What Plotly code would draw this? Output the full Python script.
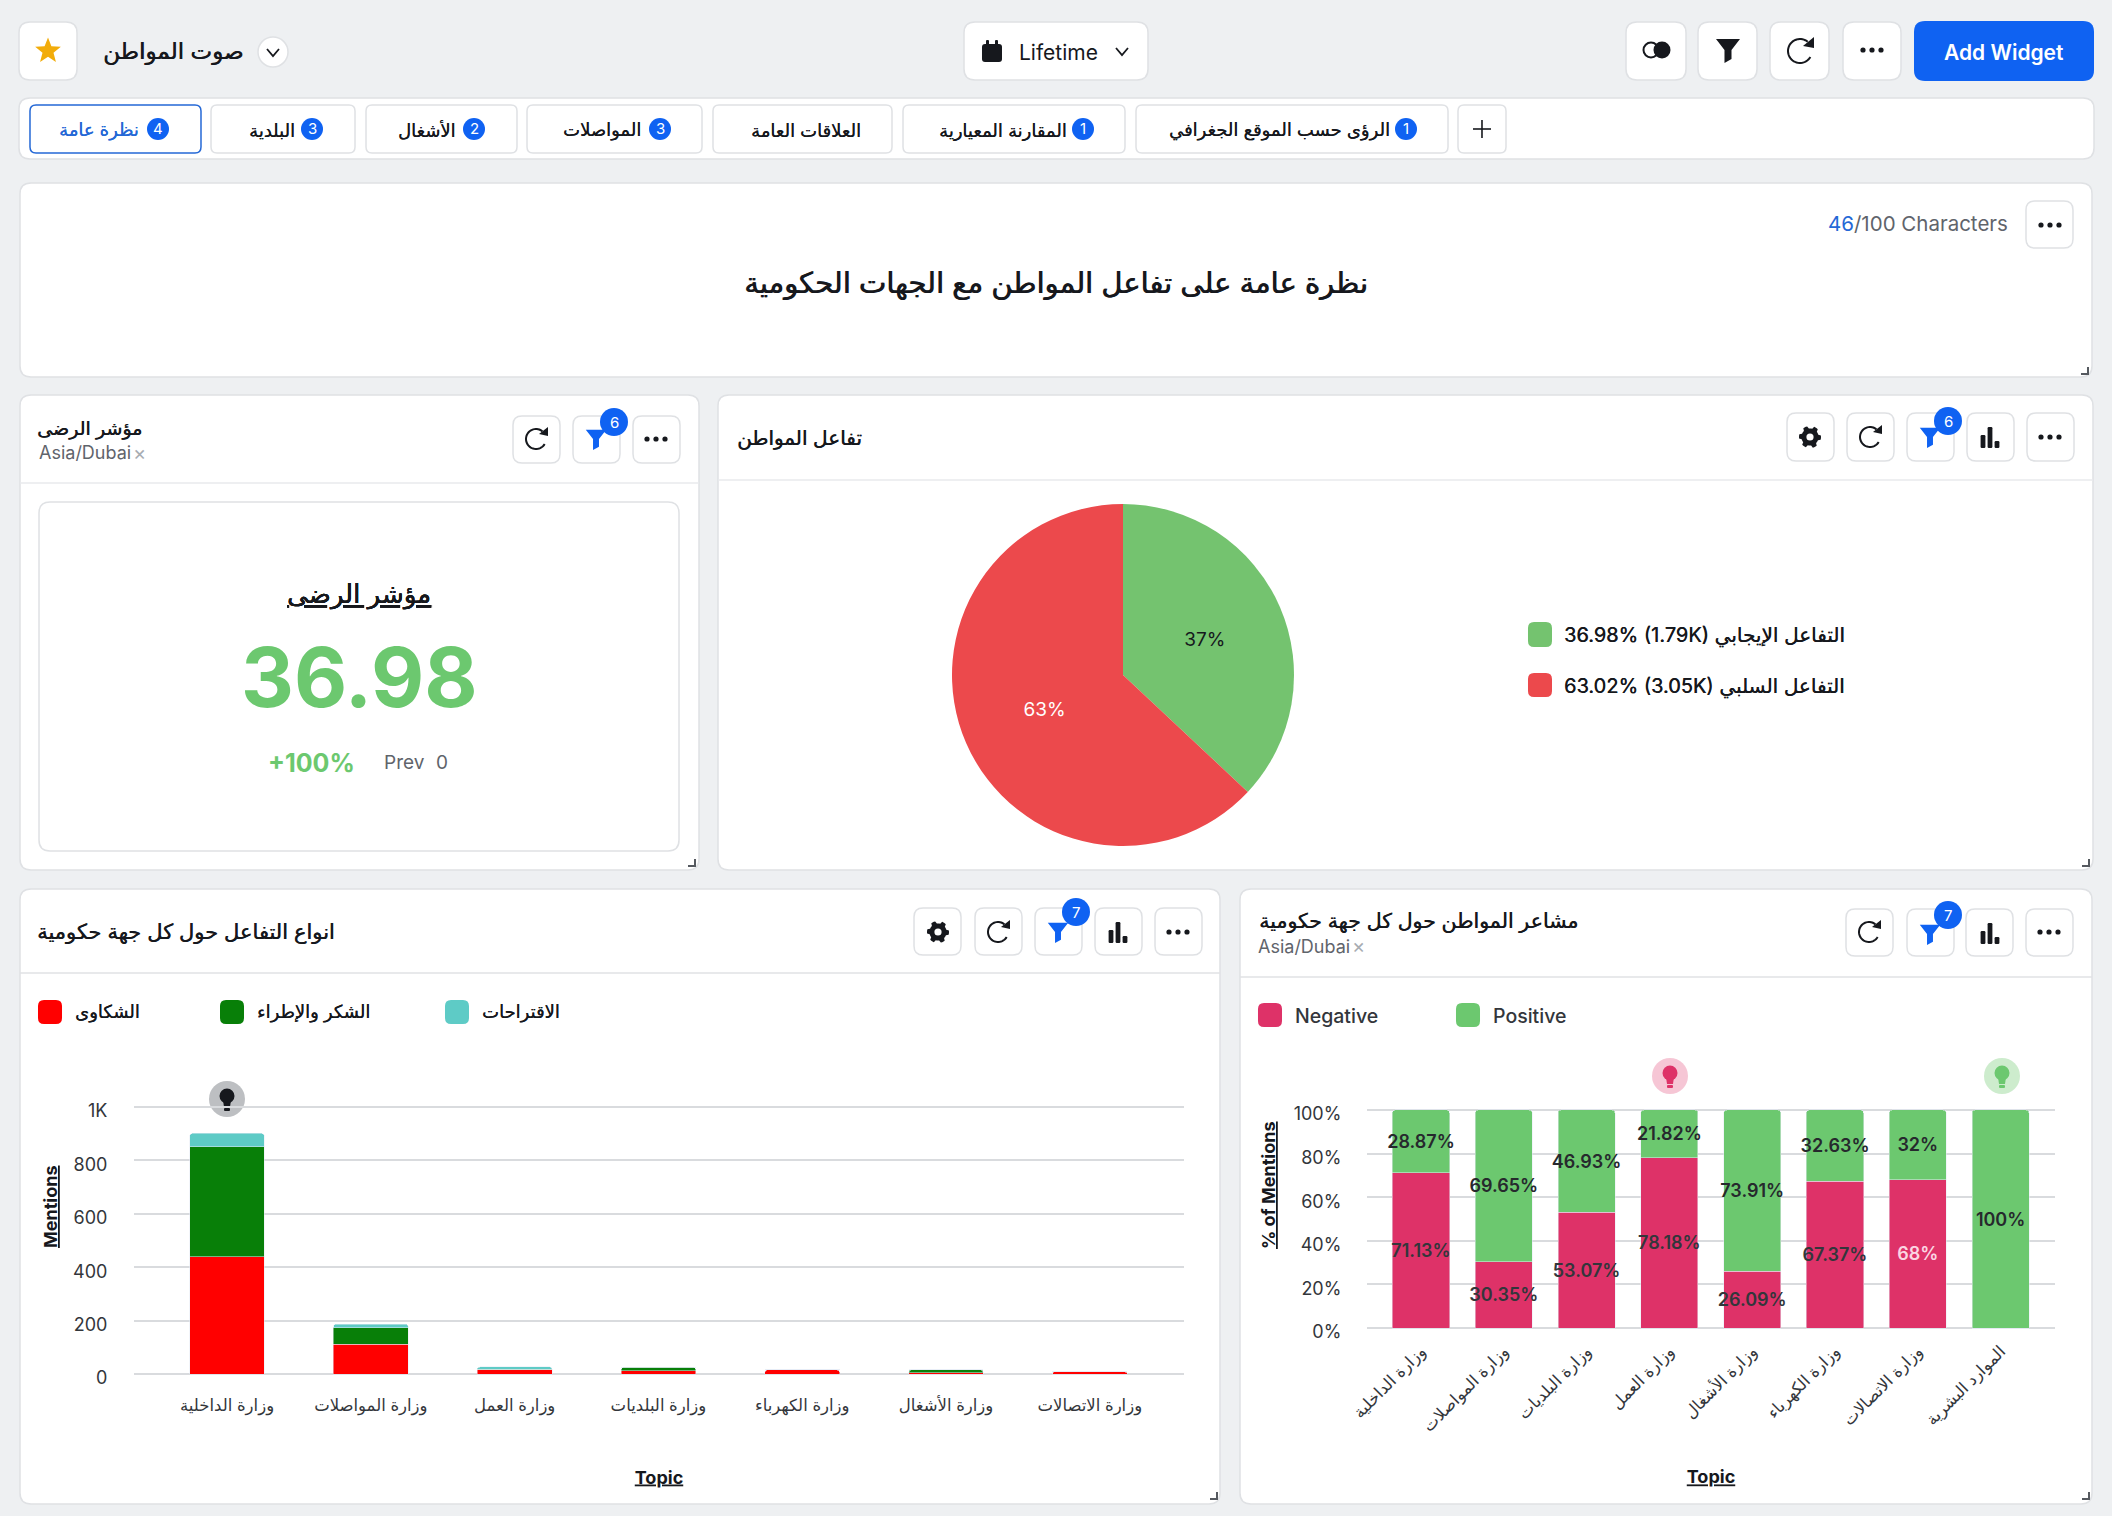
import math
import plotly.graph_objects as go

W, H = 2112, 1516

# pie
pie_labels = ['التفاعل الإيجابي', 'التفاعل السلبي']
pie_values = [36.98, 63.02]
pie_counts = ['1.79K', '3.05K']

# stacked counts per ministry
topics = ['وزارة الداخلية', 'وزارة المواصلات', 'وزارة العمل', 'وزارة البلديات',
          'وزارة الكهرباء', 'وزارة الأشغال', 'وزارة الاتصالات']
complaints = [440, 112, 15, 13, 16, 4, 8]
thanks = [411, 62, 2, 12, 0, 12, 0]
suggestions = [50, 13, 10, 0, 0, 0, 0]
count_ticks = [0, 200, 400, 600, 800, 1000]
count_tick_text = ['0', '200', '400', '600', '800', '1K']

# sentiment share per ministry
sent_topics = ['وزارة الداخلية', 'وزارة المواصلات', 'وزارة البلديات', 'وزارة العمل',
               'وزارة الأشغال', 'وزارة الكهرباء', 'وزارة الاتصالات', 'الموارد البشرية']
negative = [71.13, 30.35, 53.07, 78.18, 26.09, 67.37, 68, 0]
positive = [28.87, 69.65, 46.93, 21.82, 73.91, 32.63, 32, 100]
pct_ticks = [0, 20, 40, 60, 80, 100]
pct_tick_text = ['0%', '20%', '40%', '60%', '80%', '100%']

tabs = [('نظرة عامة', '4'), ('البلدية', '3'), ('الأشغال', '2'), ('المواصلات', '3'),
        ('العلاقات العامة', ''), ('المقارنة المعيارية', '1'), ('الرؤى حسب الموقع الجغرافي', '1')]

FONT = "Inter, 'DejaVu Sans', sans-serif"
BG = '#eef0f2'
BORDER = '#dfe1e4'
INK = '#16181d'
GREY = '#5f646b'
BLUE = '#0f62f2'
GRID = '#d9dbde'

shapes = []
notes = []


def X(v):
    return v / W


def Y(v):
    return 1 - v / H


def add_path(d, fill, line=None, width=1):
    shapes.append(dict(type='path', path=d, xref='paper', yref='paper', layer='below',
                       fillcolor=fill, line=dict(color=line or 'rgba(0,0,0,0)', width=width)))


def round_rect(x0, y0, x1, y1, r, fill='#ffffff', line=BORDER, width=1.5):
    k = [(x0 + r, y0), (x1 - r, y0), (x1, y0), (x1, y0 + r), (x1, y1 - r), (x1, y1),
         (x1 - r, y1), (x0 + r, y1), (x0, y1), (x0, y1 - r), (x0, y0 + r), (x0, y0)]
    p = [f'{X(a):.5f},{Y(b):.5f}' for a, b in k]
    d = f'M{p[0]} L{p[1]} Q{p[2]} {p[3]} L{p[4]} Q{p[5]} {p[6]} L{p[7]} Q{p[8]} {p[9]} L{p[10]} Q{p[11]} {p[0]} Z'
    add_path(d, fill, line, width)


def poly(points, fill, line=None, width=1, close=True):
    d = 'M' + ' L'.join(f'{X(a):.5f},{Y(b):.5f}' for a, b in points) + (' Z' if close else '')
    add_path(d, fill, line, width)


def circle(cx, cy, r, fill, line=None, width=1):
    shapes.append(dict(type='circle', xref='paper', yref='paper', layer='below',
                       x0=X(cx - r), x1=X(cx + r), y0=Y(cy - r), y1=Y(cy + r),
                       fillcolor=fill, line=dict(color=line or 'rgba(0,0,0,0)', width=width)))


def label(text, x, y, size, color=INK, anchor='left', heavy=0, weight=None, angle=0):
    font = dict(family=FONT, size=size, color=color)
    if heavy:
        # the arabic face only has regular and bold, this thickens the regular a little
        font['shadow'] = f'{heavy}px 0 0 {color}'
    if weight:
        font['weight'] = weight
    notes.append(dict(text=text, x=X(x), y=Y(y), xref='paper', yref='paper', showarrow=False,
                      xanchor=anchor, yanchor='middle', align=anchor, borderpad=0, borderwidth=0,
                      textangle=angle, font=font))


def dots(cx, cy, color=INK):
    for dx in (-9, 0, 9):
        circle(cx + dx, cy, 2.6, color)


def refresh(cx, cy, r=11):
    pts = []
    for i in range(0, 41):
        a = math.radians(-50 - 280 * i / 40)
        pts.append((cx + r * math.cos(a), cy + r * math.sin(a)))
    poly(pts, 'rgba(0,0,0,0)', INK, 2, close=False)
    poly([(cx + r + 2, cy - r - 2), (cx + r + 2, cy - 3), (cx + 3, cy - 5)], INK)


def funnel(cx, cy, color=INK, s=1.0):
    poly([(cx - 12 * s, cy - 11 * s), (cx + 12 * s, cy - 11 * s), (cx + 3.5 * s, cy),
          (cx + 3.5 * s, cy + 9 * s), (cx - 3.5 * s, cy + 13 * s), (cx - 3.5 * s, cy)], color)


def bars_icon(cx, cy):
    for dx, top in ((-7, -2), (0, -10), (7, 4)):
        round_rect(cx + dx - 2.4, cy + top, cx + dx + 2.4, cy + 11, 1.2, INK, INK, 0)


def gear(cx, cy):
    pts = []
    for i in range(48):
        a = 2 * math.pi * i / 48
        r = 11 if (i % 8) in (0, 1, 2, 7) else 8.6
        pts.append((cx + r * math.cos(a), cy + r * math.sin(a)))
    poly(pts, INK)
    circle(cx, cy, 3.6, '#ffffff')


def bulb(cx, cy, bg, fg):
    circle(cx, cy, 18, bg)
    circle(cx, cy - 3, 7.5, fg)
    poly([(cx - 4, cy + 1), (cx + 4, cy + 1), (cx + 3, cy + 8), (cx - 3, cy + 8)], fg)
    round_rect(cx - 3, cy + 9, cx + 3, cy + 12, 1, fg, fg, 0)


def button(x0, y0, x1, y1, r=9):
    round_rect(x0, y0, x1, y1, r)


def badge(cx, cy, txt, r=14, size=15):
    circle(cx, cy, r, BLUE)
    label(txt, cx, cy, size, '#ffffff', 'center')


def swatch(x0, y0, x1, y1, color):
    round_rect(x0, y0, x1, y1, 6, color, color, 0)


# --- top bar
button(19, 22, 77, 80, 11)
star = []
for i in range(10):
    a = math.radians(-90 + 36 * i)
    r = 13.5 if i % 2 == 0 else 5.8
    star.append((48 + r * math.cos(a), 51 + r * math.sin(a)))
poly(star, '#f2ac0a')
label('صوت المواطن', 243, 51, 23, INK, 'right', heavy=0.6)
circle(273, 52, 15, '#ffffff', BORDER, 1.5)
poly([(267, 49), (273, 56), (279, 49)], 'rgba(0,0,0,0)', INK, 1.8, close=False)

button(964, 22, 1148, 80, 11)
round_rect(982, 44, 1002, 62, 3, INK, INK, 0)
round_rect(986, 40, 989, 46, 1, INK, INK, 0)
round_rect(995, 40, 998, 46, 1, INK, INK, 0)
label('Lifetime', 1019, 52, 21, INK)
poly([(1116, 48), (1122, 55), (1128, 48)], 'rgba(0,0,0,0)', INK, 1.8, close=False)

button(1626, 22, 1686, 80, 11)
button(1698, 22, 1757, 80, 11)
button(1770, 22, 1829, 80, 11)
button(1843, 22, 1901, 80, 11)
circle(1651, 50, 7.5, '#ffffff', INK, 2)
circle(1662, 50, 8.5, INK)
funnel(1728, 50)
refresh(1800, 51, 12)
dots(1872, 50)
round_rect(1914, 21, 2094, 81, 11, BLUE, BLUE, 0)
label('Add Widget', 2004, 52, 21, '#ffffff', 'center', weight=600)

# --- tab bar
round_rect(19, 98, 2094, 159, 11)
tab_boxes = [(30, 201), (211, 355), (366, 517), (527, 702), (713, 892), (903, 1125), (1136, 1448)]
badge_x = [158, 312, 474, 660, None, 1083, 1406]
text_right = [139, 295, 456, 641, 861, 1067, 1390]
for i, (name, count) in enumerate(tabs):
    x0, x1 = tab_boxes[i]
    if i == 0:
        round_rect(x0, 105, x1, 153, 6, '#ffffff', '#2468d6', 1.5)
    else:
        round_rect(x0, 105, x1, 153, 6)
    label(name, text_right[i], 130, 18, '#2468d6' if i == 0 else INK, 'right', heavy=0.25)
    if count:
        badge(badge_x[i], 129, count, 11, 15)
round_rect(1458, 105, 1506, 153, 6)
poly([(1473, 129), (1491, 129)], 'rgba(0,0,0,0)', INK, 1.6, close=False)
poly([(1482, 120), (1482, 138)], 'rgba(0,0,0,0)', INK, 1.6, close=False)

# --- text card
round_rect(20, 183, 2092, 377, 11)
label('نظرة عامة على تفاعل المواطن مع الجهات الحكومية', 1056, 282, 29, INK, 'center', heavy=0.8)
label("<span style='color:#2468d6'>46</span>/100 Characters", 2008, 223, 20.5, GREY, 'right')
button(2026, 201, 2073, 248)
dots(2050, 225)

# --- satisfaction card
round_rect(20, 395, 699, 870, 11)
poly([(20, 483), (699, 483)], 'rgba(0,0,0,0)', '#e8eaec', 1.5, close=False)
label('مؤشر الرضى', 142, 428, 19, INK, 'right', heavy=0.5)
label('Asia/Dubai', 39, 453, 18, GREY)
label('×', 133, 453, 20, '#a8acb2')
button(513, 416, 560, 463)
button(573, 416, 620, 463)
button(633, 416, 680, 463)
refresh(536, 439, 10)
funnel(596, 439, BLUE, 0.85)
badge(614, 422, '6')
dots(656, 439)
round_rect(39, 502, 679, 851, 11)
label('<u>مؤشر الرضى</u>', 359, 594, 26, INK, 'center', heavy=0.2)
label('<b>36.98</b>', 359, 677, 82, '#6cc86f', 'center')
label('<b>+100%</b>', 311, 763, 25, '#6cc86f', 'center')
label('Prev', 384, 762, 19, GREY)
label('0', 436, 762, 19, GREY)

# --- pie card
round_rect(718, 395, 2093, 870, 11)
poly([(718, 480), (2093, 480)], 'rgba(0,0,0,0)', '#e8eaec', 1.5, close=False)
label('تفاعل المواطن', 862, 438, 20, INK, 'right', heavy=0.5)
for x0 in (1787, 1847, 1907, 1967, 2027):
    button(x0, 413, x0 + 47, 461)
gear(1810, 437)
refresh(1870, 437, 10)
funnel(1930, 437, BLUE, 0.85)
badge(1948, 421, '6')
bars_icon(1990, 437)
dots(2050, 437)
pie_colors = ['#74c36f', '#ec494c']
for i, ys in enumerate([(622, 647), (673, 697)]):
    swatch(1528, ys[0], 1552, ys[1], pie_colors[i])
    label(f'{pie_values[i]}% ({pie_counts[i]}) {pie_labels[i]}', 1564, sum(ys) / 2 + 1, 20, INK, heavy=0.3)

# --- count bars card
round_rect(20, 889, 1220, 1504, 11)
poly([(20, 973), (1220, 973)], 'rgba(0,0,0,0)', '#e0e2e5', 1.5, close=False)
label('انواع التفاعل حول كل جهة حكومية', 335, 931, 21, INK, 'right', heavy=0.5)
for x0 in (914, 975, 1035, 1095, 1155):
    button(x0, 908, x0 + 47, 955)
gear(938, 932)
refresh(998, 932, 10)
funnel(1058, 932, BLUE, 0.85)
badge(1076, 912, '7')
bars_icon(1118, 932)
dots(1178, 932)
count_series = [('الشكاوى', complaints, '#ff0000'), ('الشكر والإطراء', thanks, '#087f08'),
                ('الاقتراحات', suggestions, '#5ecbc6')]
legend_x = [38, 220, 445]
for (name, vals, color), x0 in zip(count_series, legend_x):
    swatch(x0, 1000, x0 + 24, 1024, color)
    label(name, x0 + 37, 1012, 18, INK, heavy=0.3)
bulb(227, 1099, '#bdbfc2', INK)
label('<b><u>Mentions</u></b>', 50, 1207, 18, INK, 'center', angle=-90)

# --- sentiment card
round_rect(1240, 889, 2092, 1504, 11)
poly([(1240, 977), (2092, 977)], 'rgba(0,0,0,0)', '#e0e2e5', 1.5, close=False)
label('مشاعر المواطن حول كل جهة حكومية', 1578, 920, 20.5, INK, 'right', heavy=0.5)
label('Asia/Dubai', 1258, 946, 18, GREY)
label('×', 1352, 946, 20, '#a8acb2')
for x0 in (1846, 1907, 1966, 2026):
    button(x0, 909, x0 + 47, 956)
refresh(1869, 932, 10)
funnel(1930, 934, BLUE, 0.85)
badge(1948, 915, '7')
bars_icon(1990, 933)
dots(2049, 932)
neg_color, pos_color = '#de3268', '#6cc86f'
swatch(1258, 1003, 1282, 1027, neg_color)
label('Negative', 1295, 1016, 19.5, '#33363b', weight=500)
swatch(1456, 1003, 1480, 1027, pos_color)
label('Positive', 1493, 1016, 19.5, '#33363b', weight=500)
bulb(1670, 1076, '#f6c6d5', neg_color)
bulb(2002, 1076, '#cdeccd', pos_color)
label('<b><u>% of Mentions</u></b>', 1268, 1185, 18, INK, 'center', angle=-90)

# resize grips
for gx, gy in [(2084, 372), (691, 864), (2085, 864), (1213, 1497), (2085, 1497)]:
    poly([(gx + 5, gy - 5), (gx + 5, gy + 3), (gx - 3, gy + 3), (gx - 3, gy + 1), (gx + 3, gy + 1), (gx + 3, gy - 5)], '#55595f')

fig = go.Figure()

fig.add_trace(go.Pie(labels=pie_labels, values=pie_values, sort=False, direction='clockwise',
                     rotation=0, marker=dict(colors=pie_colors), showlegend=False,
                     textinfo='percent', texttemplate='%{percent:.0%}', textposition='inside',
                     insidetextorientation='horizontal',
                     textfont=dict(family=FONT, size=19, color=[INK, '#ffffff']),
                     domain=dict(x=[X(952), X(1294)], y=[Y(846), Y(504)])))

for name, vals, color in count_series:
    fig.add_trace(go.Bar(x=topics, y=vals, name=name, marker_color=color, showlegend=False,
                         xaxis='x', yaxis='y', width=0.52))

neg_text = [f'{v:g}%' if v else '' for v in negative]
pos_text = [f'{v:g}%' for v in positive]
neg_text_colors = ['#33363b'] * 6 + ['#fbd5e2', '#33363b']
fig.add_trace(go.Bar(x=sent_topics, y=negative, name='Negative', marker_color=neg_color, showlegend=False,
                     xaxis='x2', yaxis='y2', width=0.69, text=neg_text, textposition='inside',
                     insidetextanchor='middle', constraintext='none', textangle=0,
                     textfont=dict(family=FONT, size=18, weight=600, color=neg_text_colors)))
fig.add_trace(go.Bar(x=sent_topics, y=positive, name='Positive', marker_color=pos_color, showlegend=False,
                     xaxis='x2', yaxis='y2', width=0.69, text=pos_text, textposition='inside',
                     insidetextanchor='middle', constraintext='none', textangle=0,
                     textfont=dict(family=FONT, size=18, weight=600, color='#26292d')))

tick_font = dict(family=FONT, size=18, color='#33363b')
cat_font = dict(family=FONT, size=16.5, color='#33363b')
title_font = dict(family=FONT, size=18, color=INK)

# y ranges run slightly past the ends so the first and last gridlines stay drawn
fig.update_layout(
    width=W, height=H, margin=dict(l=0, r=0, t=0, b=0), autosize=False,
    paper_bgcolor=BG, plot_bgcolor='rgba(0,0,0,0)',
    font=dict(family=FONT), barmode='stack', barcornerradius=3,
    shapes=shapes, annotations=notes,
    xaxis=dict(domain=[X(134), X(1184)], range=[-0.647, 6.655], type='category', categoryorder='array',
               categoryarray=topics, showgrid=False, zeroline=False, ticks='outside', ticklen=15,
               tickcolor='rgba(0,0,0,0)', tickfont=cat_font, tickangle=0, fixedrange=True, automargin=False,
               title=dict(text='<b><u>Topic</u></b>', font=title_font, standoff=55)),
    yaxis=dict(domain=[Y(1375.6), Y(1105.4)], range=[-6, 1006], tickvals=count_ticks, ticktext=count_tick_text,
               gridcolor=GRID, gridwidth=1.5, zeroline=False, ticks='outside', ticklen=22,
               tickcolor='rgba(0,0,0,0)', tickfont=tick_font, fixedrange=True, automargin=False,
               ticklabelshift=4),
    xaxis2=dict(domain=[X(1367), X(2055)], range=[-0.652, 7.657], type='category', categoryorder='array',
                categoryarray=sent_topics, anchor='y2', showgrid=False, zeroline=False, ticks='outside',
                ticklen=4, tickcolor='rgba(0,0,0,0)', tickfont=cat_font, tickangle=-45, fixedrange=True,
                automargin=False, title=dict(text='<b><u>Topic</u></b>', font=title_font, standoff=35)),
    yaxis2=dict(domain=[Y(1330.2), Y(1107.8)], range=[-1, 101], tickvals=pct_ticks, ticktext=pct_tick_text, anchor='x2',
                gridcolor=GRID, gridwidth=1.5, zeroline=False, ticks='outside', ticklen=21,
                tickcolor='rgba(0,0,0,0)', tickfont=tick_font, fixedrange=True, automargin=False,
                ticklabelshift=4),
)

fig.write_html("out.html", config=dict(displayModeBar=False),
               post_script="document.body.style.margin='0';document.body.style.background='%s';" % BG)
